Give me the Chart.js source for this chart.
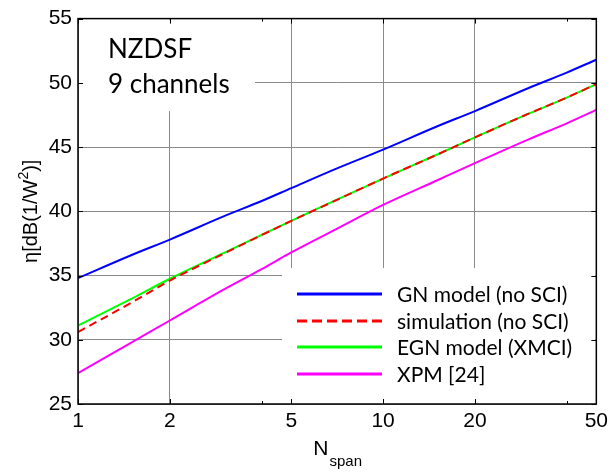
<!DOCTYPE html>
<html><head><meta charset="utf-8">
<script src="https://cdn.jsdelivr.net/npm/chart.js@4.4.0/dist/chart.umd.min.js"></script>
<style>html,body{margin:0;padding:0;background:#fff}#wrap{width:613px;height:474px}</style>
</head><body><div id="wrap"><canvas id="c" width="613" height="474"></canvas></div>
<script>
const nSpan      = [1, 1.5, 2, 3, 4, 5, 7, 10, 15, 20, 30, 40, 50];
const gnModel    = [34.8, 36.6, 37.8, 39.6, 40.8, 41.8, 43.3, 44.8, 46.6, 47.8, 49.6, 50.8, 51.8];
const simulation = [30.6, 32.9, 34.6, 36.7, 38.15, 39.25, 40.85, 42.55, 44.4, 45.75, 47.6, 48.85, 49.9];
const egnModel   = [31.1, 33.2, 34.75, 36.75, 38.17, 39.26, 40.87, 42.55, 44.4, 45.75, 47.6, 48.85, 49.9];
const xpmRef     = [27.4, 29.8, 31.5, 33.9, 35.5, 36.8, 38.6, 40.5, 42.4, 43.75, 45.6, 46.85, 47.9];
const seriesNames = ['GN model (no SCI)', 'simulation (no SCI)', 'EGN model (XMCI)', 'XPM [24]'];
const xTicks = [1, 2, 5, 10, 20, 50];
const xMinorTicks = [4, 40];
const yTicks = [25, 30, 35, 40, 45, 50, 55];
const annotation = ['NZDSF', '9 channels'];

const colors = ['#0000ff', '#ff0000', '#00ff00', '#ff00ff'];
const dashes = [[], [8, 5], [], []];
const seriesVals = [gnModel, simulation, egnModel, xpmRef];

const datasets = seriesVals.map((vals, i) => ({
  label: seriesNames[i],
  data: nSpan.map((n, j) => ({x: n, y: vals[j]})),
  borderColor: colors[i],
  borderWidth: 2,
  borderDash: dashes[i],
  pointRadius: 0,
  fill: false,
  cubicInterpolationMode: 'monotone'
}));

const tickFont = {family: '"Liberation Sans", Arial, sans-serif', size: 21};

const deco = {
  id: 'deco',
  beforeDatasetsDraw(chart) {
    const ctx = chart.ctx, a = chart.chartArea;
    ctx.save();
    ctx.fillStyle = '#fff';
    ctx.fillRect(a.left + 1, a.top + 1, 254 - a.left, 110 - a.top);
    ctx.fillRect(282, 268, a.right - 282 - 1, a.bottom - 268 - 1);
    ctx.fillStyle = '#000';
    ctx.font = '26px Lato, "Open Sans", sans-serif';
    ctx.textBaseline = 'alphabetic';
    ctx.textAlign = 'left';
    ctx.fillText(annotation[0], 108, 58);
    ctx.fillText(annotation[1], 108, 93);
    ctx.restore();
  },
  afterDatasetsDraw(chart) {
    const ctx = chart.ctx, a = chart.chartArea;
    const xs = chart.scales.x, ys = chart.scales.y;
    ctx.save();
    const rows = [294, 321, 347, 374];
    ctx.font = '21px Lato, "Open Sans", sans-serif';
    ctx.textBaseline = 'middle';
    rows.forEach((y, i) => {
      ctx.strokeStyle = colors[i];
      ctx.lineWidth = 3;
      ctx.setLineDash(dashes[i].length ? [10, 5] : []);
      ctx.beginPath(); ctx.moveTo(297, y); ctx.lineTo(382, y); ctx.stroke();
      ctx.fillStyle = '#000';
      ctx.fillText(seriesNames[i], 397, y + 1);
    });
    ctx.setLineDash([]);
    ctx.strokeStyle = '#000';
    ctx.lineWidth = 1.5;
    ctx.strokeRect(a.left, a.top, a.right - a.left, a.bottom - a.top);
    ctx.lineWidth = 1;
    const tick = (v, tl) => {
      const px = Math.round(xs.getPixelForValue(v)) + 0.5;
      ctx.beginPath();
      ctx.moveTo(px, a.bottom); ctx.lineTo(px, a.bottom - tl);
      ctx.moveTo(px, a.top); ctx.lineTo(px, a.top + tl);
      ctx.stroke();
    };
    xTicks.forEach(v => tick(v, 5));
    xMinorTicks.forEach(v => tick(v, 3));
    yTicks.forEach(v => {
      const py = Math.round(ys.getPixelForValue(v)) + 0.5;
      ctx.beginPath();
      ctx.moveTo(a.left, py); ctx.lineTo(a.left + 5, py);
      ctx.moveTo(a.right, py); ctx.lineTo(a.right - 5, py);
      ctx.stroke();
    });
    ctx.restore();
  },
  afterDraw(chart) {
    const ctx = chart.ctx, a = chart.chartArea;
    ctx.save();
    ctx.fillStyle = '#000';
    ctx.textBaseline = 'alphabetic';
    ctx.textAlign = 'left';
    const big = '21px "Liberation Sans", Arial, sans-serif';
    const small = '15px "Liberation Sans", Arial, sans-serif';
    ctx.font = big; const wN = ctx.measureText('N').width;
    ctx.font = small; const wS = ctx.measureText('span').width;
    const cx = (a.left + a.right) / 2;
    const x0 = cx - (wN + wS) / 2;
    ctx.font = big; ctx.fillText('N', x0, 455);
    ctx.font = small; ctx.fillText('span', x0 + wN + 1, 466);
    const f1 = '20px "Liberation Sans", Arial, sans-serif';
    const f2 = '14px "Liberation Sans", Arial, sans-serif';
    const p1 = 'η[dB(1/W', p2 = '2', p3 = ')]';
    ctx.font = f1; const w1 = ctx.measureText(p1).width, w3 = ctx.measureText(p3).width;
    ctx.font = f2; const w2 = ctx.measureText(p2).width;
    const tot = w1 + w2 + w3;
    ctx.translate(37, (a.top + a.bottom) / 2);
    ctx.rotate(-Math.PI / 2);
    let sx = -tot / 2;
    ctx.font = f1; ctx.fillText(p1, sx, 0); sx += w1;
    ctx.font = f2; ctx.fillText(p2, sx, -9); sx += w2;
    ctx.font = f1; ctx.fillText(p3, sx, 0);
    ctx.restore();
  }
};

new Chart(document.getElementById('c'), {
  type: 'line',
  data: {datasets},
  options: {
    responsive: false,
    animation: false,
    devicePixelRatio: 1,
    layout: {padding: {top: 14, right: 14, left: 0, bottom: 0}},
    plugins: {legend: {display: false}, tooltip: {enabled: false}},
    scales: {
      x: {
        type: 'logarithmic', min: 1, max: 50,
        afterBuildTicks: s => { s.ticks = xTicks.map(v => ({value: v})); },
        afterFit: s => { s.height = 70; },
        ticks: {callback: v => String(v), font: tickFont, color: '#000', maxRotation: 0, autoSkip: false, padding: 5},
        grid: {color: '#8a8a8a', lineWidth: 1, drawTicks: false},
        border: {display: false}
      },
      y: {
        type: 'linear', min: 25, max: 55,
        afterBuildTicks: s => { s.ticks = yTicks.map(v => ({value: v})); },
        afterFit: s => { s.width = 78; },
        ticks: {font: tickFont, color: '#000', padding: 6},
        grid: {color: '#8a8a8a', lineWidth: 1, drawTicks: false},
        border: {display: false}
      }
    }
  },
  plugins: [deco]
});
</script></body></html>
